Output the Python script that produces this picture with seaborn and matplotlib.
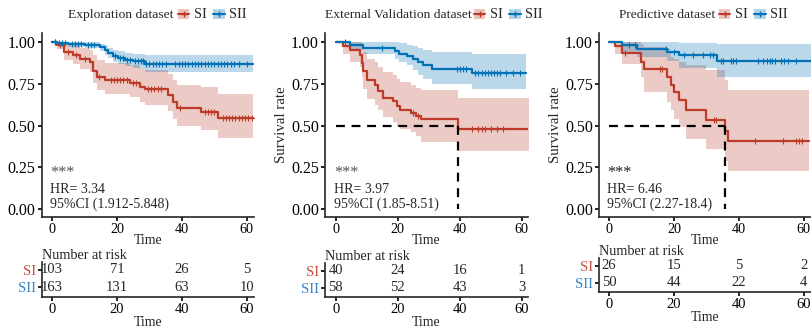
import matplotlib
matplotlib.use("Agg")
import matplotlib.pyplot as plt
import numpy as np
import seaborn as sns
from matplotlib.lines import Line2D
from matplotlib.patches import Patch

RED = "#BC3C29"
BLUE = "#0072B5"
RED_TXT = "#C9513F"
BLUE_TXT = "#3A86C6"

# ---- Exploration dataset ----
exp_si_t = [0, 1.5, 3.7, 6.5, 8.6, 11.7, 12.7, 13.7, 16.3, 24, 27, 28.6, 35.6, 37.3, 38.4, 46, 51.2]
exp_si_s = [1, 0.985, 0.94, 0.925, 0.90, 0.88, 0.825, 0.79, 0.77, 0.755, 0.73, 0.717, 0.683, 0.643, 0.603, 0.583, 0.543]
exp_si_hi = [1, 1, 0.99, 0.98, 0.965, 0.955, 0.92, 0.895, 0.875, 0.865, 0.845, 0.835, 0.81, 0.775, 0.745, 0.73, 0.69]
exp_si_lo = [1, 0.96, 0.89, 0.87, 0.84, 0.82, 0.755, 0.715, 0.69, 0.67, 0.64, 0.625, 0.585, 0.54, 0.5, 0.475, 0.425]
exp_si_end = 62
exp_si_cens = [1, 2.5, 5, 7.5, 10, 14.5, 18, 19, 20, 21, 22, 23, 25, 26, 29.5, 30.5, 31.5, 32.5, 33.5,
               39.5, 47, 48, 49, 50, 52.5, 53.5, 54.5, 55.5, 56.5, 57.5, 58.5, 59.5, 60.5, 61.5]

exp_sii_t = [0, 1.5, 5, 10, 14.8, 16.3, 17.3, 18.9, 20.4, 22.5, 25, 28.6]
exp_sii_s = [1, 0.994, 0.988, 0.982, 0.968, 0.954, 0.934, 0.914, 0.904, 0.894, 0.885, 0.868]
exp_sii_hi = [1, 1, 1, 0.998, 0.99, 0.98, 0.965, 0.952, 0.945, 0.937, 0.93, 0.925]
exp_sii_lo = [1, 0.98, 0.97, 0.962, 0.945, 0.925, 0.903, 0.88, 0.868, 0.855, 0.845, 0.82]
exp_sii_end = 62
exp_sii_cens = [1, 2, 3, 4, 6, 7, 8, 9, 11, 12, 13, 19.5, 21, 22, 23, 24, 25.5, 26.5, 27.5, 28,
                29, 30, 31, 32, 33, 34, 35, 38, 39, 40, 41, 42, 43, 44, 45, 46, 47, 48, 49, 50,
                51, 52, 53, 54, 55, 56, 57.5, 60]

# ---- External Validation dataset ----
ext_si_t = [0, 2.4, 4.5, 7.7, 8.3, 8.8, 9.9, 12.6, 13.6, 15.3, 18.5, 19.6, 20.6, 24.4, 26.0, 27.6, 39.5]
ext_si_s = [1, 0.975, 0.95, 0.925, 0.875, 0.825, 0.775, 0.745, 0.705, 0.665, 0.645, 0.615, 0.595, 0.575, 0.557, 0.537, 0.477]
ext_si_hi = [1, 1, 1, 1, 0.97, 0.94, 0.9, 0.88, 0.85, 0.82, 0.8, 0.78, 0.76, 0.74, 0.725, 0.71, 0.665]
ext_si_lo = [1, 0.93, 0.88, 0.85, 0.79, 0.72, 0.66, 0.62, 0.59, 0.55, 0.52, 0.5, 0.48, 0.46, 0.44, 0.40, 0.345]
ext_si_end = 63
ext_si_cens = [25, 26.5, 44, 46, 47, 48, 50, 52, 54]

ext_sii_t = [0, 4.5, 8.8, 19, 20.5, 22.8, 24.9, 26.6, 28.2, 30.9, 43.8]
ext_sii_s = [1, 0.983, 0.965, 0.948, 0.931, 0.914, 0.897, 0.879, 0.862, 0.838, 0.816]
ext_sii_hi = [1, 1, 1, 1, 0.995, 0.985, 0.975, 0.965, 0.955, 0.94, 0.928]
ext_sii_lo = [1, 0.95, 0.93, 0.9, 0.88, 0.86, 0.83, 0.8, 0.78, 0.75, 0.72]
ext_sii_end = 61.5
ext_sii_cens = [3, 15, 39, 40, 41, 42, 45, 46, 47, 48, 49, 50, 51, 52, 53, 55, 57, 59.5]

# ---- Predictive dataset ----
pre_si_t = [0, 1.8, 3.9, 9.7, 10.8, 17.9, 19, 20, 21.5, 23.6, 29.8, 35.8, 36.7]
pre_si_s = [1, 0.976, 0.936, 0.883, 0.836, 0.792, 0.743, 0.703, 0.653, 0.593, 0.534, 0.47, 0.405]
pre_si_hi = [1, 1, 1, 0.99, 0.97, 0.94, 0.91, 0.9, 0.88, 0.86, 0.83, 0.77, 0.71]
pre_si_lo = [1, 0.93, 0.87, 0.79, 0.70, 0.64, 0.59, 0.54, 0.49, 0.42, 0.36, 0.29, 0.23]
pre_si_end = 61.5
pre_si_cens = [5, 15.8, 16.3, 32.3, 32.8, 44.8, 53.5, 57.5, 58.5, 59.5]

pre_sii_t = [0, 4.1, 8.7, 17.9, 21.5, 33.4]
pre_sii_s = [1, 0.98, 0.96, 0.94, 0.92, 0.884]
pre_sii_hi = [1, 1, 1, 1, 0.995, 0.99]
pre_sii_lo = [1, 0.94, 0.91, 0.885, 0.845, 0.79]
pre_sii_end = 62.5
pre_sii_cens = [6, 8, 17.5, 20, 23, 26, 29, 31, 32, 34.5, 35, 37.6, 38.2, 39, 46, 47.5, 48.6, 49.5,
                50.3, 51, 53, 54, 55, 57.5]

# ---- Risk tables ----
risk_times = [0, 20, 40, 60]
exp_risk_si = [103, 71, 26, 5]
exp_risk_sii = [163, 131, 63, 10]
ext_risk_si = [40, 24, 16, 1]
ext_risk_sii = [58, 52, 43, 3]
pre_risk_si = [26, 15, 5, 2]
pre_risk_sii = [50, 44, 22, 4]

panels = [
    dict(title="Exploration dataset", hr="HR= 3.34", ci="95%CI (1.912-5.848)", median=None,
         si=(exp_si_t, exp_si_s, exp_si_lo, exp_si_hi, exp_si_end, exp_si_cens),
         sii=(exp_sii_t, exp_sii_s, exp_sii_lo, exp_sii_hi, exp_sii_end, exp_sii_cens),
         risk=(exp_risk_si, exp_risk_sii), ylabel=False, star="#555555"),
    dict(title="External Validation dataset", hr="HR= 3.97", ci="95%CI (1.85-8.51)", median=39.5,
         si=(ext_si_t, ext_si_s, ext_si_lo, ext_si_hi, ext_si_end, ext_si_cens),
         sii=(ext_sii_t, ext_sii_s, ext_sii_lo, ext_sii_hi, ext_sii_end, ext_sii_cens),
         risk=(ext_risk_si, ext_risk_sii), ylabel=True, star="#555555"),
    dict(title="Predictive dataset", hr="HR= 6.46", ci="95%CI (2.27-18.4)", median=35.8,
         si=(pre_si_t, pre_si_s, pre_si_lo, pre_si_hi, pre_si_end, pre_si_cens),
         sii=(pre_sii_t, pre_sii_s, pre_sii_lo, pre_sii_hi, pre_sii_end, pre_sii_cens),
         risk=(pre_risk_si, pre_risk_sii), ylabel=True, star="#222222"),
]

sns.set_theme(style="ticks")
plt.rcParams["font.family"] = ["Liberation Serif", "DejaVu Serif"]
plt.rcParams["axes.linewidth"] = 1.2
plt.rcParams["xtick.major.width"] = 1.2
plt.rcParams["ytick.major.width"] = 1.2
plt.rcParams["xtick.major.size"] = 3
plt.rcParams["ytick.major.size"] = 3
plt.rcParams["xtick.color"] = "black"
plt.rcParams["ytick.color"] = "black"
FS = 9.7

W, H = 811, 332
fig = plt.figure(figsize=(W / 100, H / 100), dpi=100)

# pixel layout: (main left, main right, xlim, risk top, risk bottom, title end, legend start)
layout = [
    (42, 254, (-3.1, 62.2), 262, 297, 173, 178),
    (325, 528, (-3.5, 62.0), 263, 297, 472, 474),
    (599, 811, (-3.1, 62.2), 258, 292, 715, 719),
]
main_top, main_bot = 33, 217


def draw_curve(ax, data, color):
    t, s, lo, hi, t_end, cens = data
    tt = np.append(t, t_end)
    ss = np.append(s, s[-1])
    ax.fill_between(tt, np.append(lo, lo[-1]), np.append(hi, hi[-1]), step="post",
                    color=color, alpha=0.27, linewidth=0)
    sns.lineplot(x=tt, y=ss, ax=ax, color=color, lw=1.6, drawstyle="steps-post",
                 estimator=None, sort=False)
    cens = np.asarray(cens)
    idx = np.searchsorted(t, cens, side="right") - 1
    ax.plot(cens, np.asarray(s)[idx], ls="none", marker="+", ms=4.5, mew=0.8, color=color)


for p, (l, r, xlim, rt, rb, tend, lstart) in zip(panels, layout):
    ax = fig.add_axes([l / W, 1 - main_bot / H, (r - l) / W, (main_bot - main_top) / H])
    draw_curve(ax, p["si"], RED)
    draw_curve(ax, p["sii"], BLUE)
    if p["median"] is not None:
        m = p["median"]
        ax.plot([0, m], [0.5, 0.5], color="black", lw=1.6, ls=(0, (4, 3)))
        ax.plot([m, m], [0.5, 0], color="black", lw=1.6, ls=(0, (4, 3)))
    ax.set_xlim(*xlim)
    ax.set_ylim(-0.048, 1.054)
    ax.set_xticks([0, 20, 40, 60])
    ax.set_yticks([0, 0.25, 0.5, 0.75, 1.0])
    ax.set_yticklabels(["0.00", "0.25", "0.50", "0.75", "1.00"])
    ax.tick_params(axis="y", labelsize=FS + 1.8, pad=1.5)
    ax.tick_params(axis="x", labelsize=FS + 0.5, pad=1.5)
    ax.set_xlabel("Time", fontsize=FS + 0.3, labelpad=-1.5)
    if p["ylabel"]:
        ax.set_ylabel("Survival rate", fontsize=FS + 1, labelpad=2)
    else:
        ax.set_ylabel("")
    sns.despine(ax=ax)
    x0 = -0.5
    ax.text(x0, 0.215, "***", fontsize=FS + 2, color=p["star"], ha="left", va="center")
    ax.text(x0, 0.115, p["hr"], fontsize=FS + 0.3, ha="left", va="center")
    ax.text(x0, 0.03, p["ci"], fontsize=FS + 0.3, ha="left", va="center")

    # title + legend
    fig.text(tend / W, 1 - 15 / H, p["title"], fontsize=FS, ha="right", va="center")
    handles = [(Patch(color=RED, alpha=0.3, lw=0), Line2D([], [], color=RED, lw=1.5, marker="+", ms=5)),
               (Patch(color=BLUE, alpha=0.3, lw=0), Line2D([], [], color=BLUE, lw=1.5, marker="+", ms=5))]
    fig.legend(handles, ["SI", "SII"], loc="center left", bbox_to_anchor=(lstart / W, 1 - 15 / H),
               ncol=2, frameon=False, borderpad=0, borderaxespad=0, handlelength=0.8,
               handletextpad=0.3, columnspacing=0.5, fontsize=FS + 0.5)

    # risk table
    rax = fig.add_axes([l / W, 1 - rb / H, (r - l) / W, (rb - rt) / H])
    risk_si, risk_sii = p["risk"]
    for tt, n in zip(risk_times, risk_si):
        rax.text(tt, 1, str(n), ha="center", va="center", fontsize=FS + 0.8)
    for tt, n in zip(risk_times, risk_sii):
        rax.text(tt, 0, str(n), ha="center", va="center", fontsize=FS + 0.8)
    rax.set_xlim(*xlim)
    rax.set_ylim(-0.55, 1.45)
    rax.set_yticks([1, 0])
    rax.set_yticklabels(["SI", "SII"])
    for lab, c in zip(rax.get_yticklabels(), [RED_TXT, BLUE_TXT]):
        lab.set_color(c)
    rax.tick_params(axis="y", labelsize=FS + 1, pad=1)
    rax.set_xticks([0, 20, 40, 60])
    rax.tick_params(axis="x", labelsize=FS + 0.8, pad=1)
    rax.set_xlabel("Time", fontsize=FS + 0.3, labelpad=0)
    rax.set_title("Number at risk", loc="left", fontsize=FS + 0.5, pad=2)
    sns.despine(ax=rax)

fig.savefig("out.png", dpi=100)
